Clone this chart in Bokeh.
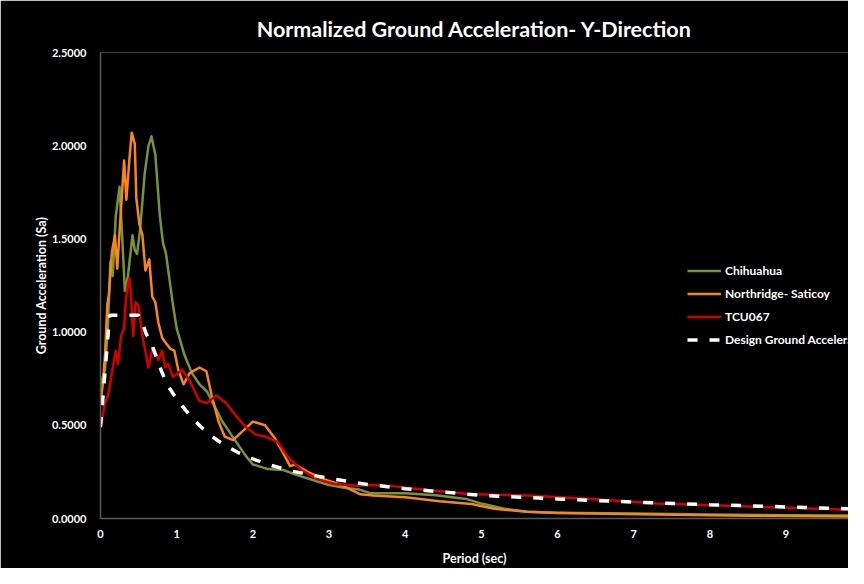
from bokeh.plotting import figure
from bokeh.models import Range1d, FixedTicker, NumeralTickFormatter, Legend, LegendItem
from bokeh.embed import file_html
from bokeh.resources import INLINE

# ---- data ----
chihuahua_T = [0.0, 0.06, 0.10, 0.13, 0.16, 0.20, 0.25, 0.28, 0.32, 0.36, 0.42, 0.45, 0.48, 0.52, 0.58,
               0.63, 0.67, 0.72, 0.78, 0.82, 0.86, 0.90, 0.95, 1.0, 1.1, 1.2, 1.3, 1.4, 1.5, 1.6, 1.75,
               1.9, 2.0, 2.2, 2.4, 2.6, 2.8, 3.0, 3.2, 3.4, 3.55, 4.0, 4.4, 4.8, 5.0, 5.3, 5.6, 6.0,
               7.0, 8.0, 9.0, 10.0]
chihuahua_Sa = [0.72, 0.80, 1.05, 1.38, 1.30, 1.62, 1.78, 1.55, 1.22, 1.30, 1.52, 1.44, 1.42, 1.55, 1.85,
                2.00, 2.05, 1.95, 1.62, 1.48, 1.42, 1.30, 1.15, 1.02, 0.88, 0.78, 0.72, 0.68, 0.60, 0.52, 0.43,
                0.34, 0.29, 0.265, 0.26, 0.23, 0.205, 0.18, 0.165, 0.155, 0.135, 0.135, 0.125, 0.105, 0.08,
                0.052, 0.036, 0.031, 0.027, 0.022, 0.018, 0.015]

northridge_T = [0.0, 0.03, 0.06, 0.09, 0.11, 0.15, 0.19, 0.22, 0.26, 0.31, 0.34, 0.38, 0.41, 0.45, 0.47,
                0.51, 0.55, 0.59, 0.64, 0.68, 0.72, 0.76, 0.81, 0.86, 0.92, 0.97, 1.02, 1.09, 1.17, 1.30,
                1.39, 1.46, 1.55, 1.63, 1.74, 1.87, 2.0, 2.16, 2.29, 2.40, 2.49, 2.55, 2.72, 2.94, 3.16,
                3.41, 3.58, 4.0, 4.45, 4.87, 5.17, 5.6, 6.0, 7.3, 8.5, 10.0]
northridge_Sa = [0.62, 0.72, 0.88, 1.15, 1.20, 1.43, 1.52, 1.34, 1.60, 1.92, 1.71, 1.93, 2.07, 2.01, 1.72,
                 1.58, 1.52, 1.33, 1.39, 1.19, 1.16, 1.05, 0.97, 0.94, 0.91, 0.90, 0.80, 0.72, 0.78, 0.81,
                 0.79, 0.66, 0.52, 0.44, 0.42, 0.47, 0.52, 0.50, 0.43, 0.35, 0.28, 0.29, 0.25, 0.21, 0.18,
                 0.13, 0.124, 0.114, 0.093, 0.078, 0.052, 0.036, 0.030, 0.021, 0.015, 0.010]

tcu067_T = [0.0, 0.06, 0.10, 0.15, 0.20, 0.23, 0.27, 0.31, 0.33, 0.36, 0.38, 0.40, 0.43, 0.46, 0.50,
            0.55, 0.63, 0.68, 0.72, 0.76, 0.81, 0.85, 0.89, 0.95, 1.02, 1.07, 1.17, 1.30, 1.40, 1.52,
            1.65, 1.78, 1.91, 2.04, 2.16, 2.33, 2.46, 2.64, 2.85, 3.07, 3.36, 3.58, 3.80, 4.23, 4.87,
            5.6, 6.46, 7.3, 8.13, 9.0, 10.0]
tcu067_Sa = [0.49, 0.62, 0.66, 0.78, 0.90, 0.83, 0.98, 1.02, 1.16, 1.26, 1.29, 1.20, 0.98, 1.16, 1.14,
             0.98, 0.81, 0.91, 0.90, 0.85, 0.90, 0.81, 0.83, 0.76, 0.78, 0.80, 0.74, 0.63, 0.62, 0.66,
             0.62, 0.55, 0.49, 0.45, 0.44, 0.41, 0.33, 0.26, 0.21, 0.185, 0.176, 0.18, 0.175, 0.155, 0.13,
             0.124, 0.105, 0.080, 0.070, 0.058, 0.045]

design_T = [0.0, 0.12, 0.5, 0.55, 0.6, 0.66, 0.72, 0.81, 0.89, 1.0, 1.2, 1.4, 1.6, 1.8, 2.0, 2.2, 2.5,
            3.0, 3.5, 4.0, 4.5, 5.0, 6.0, 7.0, 8.0, 9.0, 10.0]
design_Sa = [0.49, 1.09, 1.09, 1.05, 0.99, 0.95, 0.88, 0.78, 0.71, 0.64, 0.54, 0.46, 0.40, 0.355, 0.32,
             0.29, 0.255, 0.215, 0.183, 0.16, 0.142, 0.124, 0.105, 0.088, 0.074, 0.062, 0.050]

x_ticks = [0, 1, 2, 3, 4, 5, 6, 7, 8, 9]
y_ticks = [0.0, 0.5, 1.0, 1.5, 2.0, 2.5]

FONT = "Lato"

p = figure(width=848, height=568, output_backend="svg", toolbar_location=None,
           x_range=Range1d(0, 9.82), y_range=Range1d(0, 2.5),
           min_border_left=100, min_border_right=0, min_border_top=52, min_border_bottom=46,
           background_fill_color="black", border_fill_color="black")
p.outline_line_color = None
p.grid.visible = False

p.title.text = "Normalized Ground Acceleration- Y-Direction"
p.title.text_color = "white"
p.title.text_font = FONT
p.title.text_font_size = "21.5px"
p.title.text_font_style = "bold"
p.title.align = "center"
p.title.vertical_align = "top"
p.title.offset = -13
p.title.standoff = 18

for ax in (p.xaxis[0], p.yaxis[0]):
    ax.axis_line_color = "#595959"
    ax.axis_line_width = 1.5
    ax.major_tick_line_color = None
    ax.minor_tick_line_color = None
    ax.major_label_text_color = "white"
    ax.major_label_text_font = FONT
    ax.major_label_text_font_style = "bold"
    ax.major_label_text_font_size = "11px"
    ax.axis_label_text_color = "white"
    ax.axis_label_text_font = FONT
    ax.axis_label_text_font_style = "bold"
    ax.axis_label_text_font_size = "12.5px"

p.xaxis.ticker = FixedTicker(ticks=x_ticks)
p.yaxis.ticker = FixedTicker(ticks=y_ticks)
p.yaxis.formatter = NumeralTickFormatter(format="0.0000")
p.xaxis.axis_label = "Period (sec)"
p.yaxis.axis_label = "Ground Acceleration (Sa)"
p.xaxis.major_label_standoff = 5
p.yaxis.major_label_standoff = 8
p.xaxis.axis_label_standoff = 10
p.yaxis.axis_label_standoff = 0

r1 = p.line(chihuahua_T, chihuahua_Sa, line_color="#77933C", line_width=2.5, line_join="round")
r2 = p.line(northridge_T, northridge_Sa, line_color="#F7861C", line_width=2.5, line_join="round")
r3 = p.line(tcu067_T, tcu067_Sa, line_color="#D40000", line_width=2.5, line_join="round")
r4 = p.line(design_T, design_Sa, line_color="white", line_width=3.5, line_dash="10 12")

legend = Legend(items=[LegendItem(label="Chihuahua", renderers=[r1]),
                       LegendItem(label="Northridge- Saticoy", renderers=[r2]),
                       LegendItem(label="TCU067", renderers=[r3]),
                       LegendItem(label="Design Ground Acceleration", renderers=[r4])],
                location=(587, 167), background_fill_alpha=0, border_line_alpha=0,
                padding=0, spacing=0, margin=0, glyph_width=34, glyph_height=23,
                label_height=23, label_standoff=4,
                label_text_color="white", label_text_font=FONT,
                label_text_font_style="bold", label_text_font_size="12px")
p.add_layout(legend)

open("out.html", "w").write(file_html(p, INLINE))
